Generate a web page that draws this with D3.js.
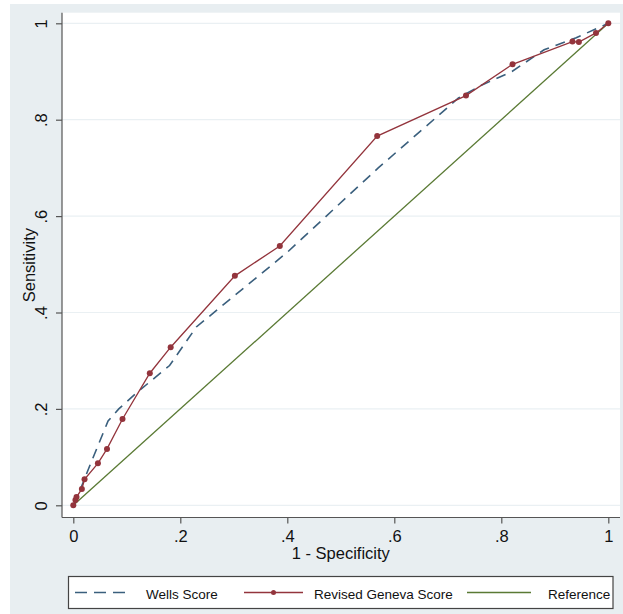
<!DOCTYPE html>
<html>
<head>
<meta charset="utf-8">
<script src="https://cdn.jsdelivr.net/npm/d3@7"></script>
<style>
  body { margin: 0; background: #fff; }
  text { font-family: "Liberation Sans", Arial, Helvetica, sans-serif; fill: #111; }
</style>
</head>
<body>
<svg id="chart"></svg>
<script>
  // ROC curves
  const wellsX = [0, 0.005, 0.03, 0.065, 0.085, 0.12, 0.18, 0.23, 0.4, 0.57, 0.72, 0.76, 0.82, 0.88, 0.94, 1];
  const wellsY = [0, 0.01, 0.08, 0.175, 0.2, 0.235, 0.29, 0.37, 0.525, 0.7, 0.845, 0.87, 0.9, 0.945, 0.97, 1];

  const genevaX = [0, 0.004, 0.006, 0.016, 0.021, 0.046, 0.063, 0.092, 0.143, 0.182, 0.302, 0.386, 0.568, 0.734, 0.821, 0.933, 0.945, 0.977, 1];
  const genevaY = [0, 0.011, 0.017, 0.034, 0.054, 0.087, 0.117, 0.179, 0.274, 0.328, 0.476, 0.538, 0.766, 0.85, 0.915, 0.962, 0.961, 0.98, 1];

  const refX = [0, 1];
  const refY = [0, 1];

  const tickValues = [0, 0.2, 0.4, 0.6, 0.8, 1];
  const tickLabels = ['0', '.2', '.4', '.6', '.8', '1'];

  const legendNames = ['Wells Score', 'Revised Geneva Score', 'Reference'];

  const width = 623, height = 614;
  const colors = { wells: '#3a5f7d', geneva: '#93343c', ref: '#5a7a34' };
  const dash = '10,7';

  const svg = d3.select('#chart').attr('width', width).attr('height', height);

  // graph region background
  svg.append('rect')
    .attr('x', 10).attr('y', 4)
    .attr('width', width - 10).attr('height', height - 4)
    .attr('fill', '#e8eef1');

  const plot = { left: 62, top: 12.7, right: 620, bottom: 517.5 };

  svg.append('rect')
    .attr('x', plot.left).attr('y', plot.top)
    .attr('width', plot.right - plot.left).attr('height', plot.bottom - plot.top)
    .attr('fill', '#fff');

  const x = d3.scaleLinear().domain([0, 1]).range([73.3, 608.3]);
  const y = d3.scaleLinear().domain([0, 1]).range([505.3, 23.3]);

  // grid
  svg.append('g').selectAll('line').data(tickValues)
    .enter().append('line')
      .attr('x1', plot.left).attr('x2', plot.right)
      .attr('y1', d => y(d)).attr('y2', d => y(d))
      .attr('stroke', '#eaf0f3').attr('stroke-width', 1.2);

  // axes
  const xAxis = svg.append('g')
    .attr('transform', `translate(0,${plot.bottom})`)
    .call(d3.axisBottom(x).tickValues(tickValues).tickFormat((d, i) => tickLabels[i]).tickSize(6).tickPadding(3));
  xAxis.select('.domain').attr('d', `M${plot.left},0H${plot.right}`);

  const yAxis = svg.append('g')
    .attr('transform', `translate(${plot.left},0)`)
    .call(d3.axisLeft(y).tickValues(tickValues).tickFormat((d, i) => tickLabels[i]).tickSize(6));
  yAxis.select('.domain').attr('d', `M0,${plot.top}V${plot.bottom}`);

  [xAxis, yAxis].forEach(a => {
    a.selectAll('.domain').attr('stroke', '#555').attr('stroke-width', 1.2);
    a.selectAll('.tick line').attr('stroke', '#555').attr('stroke-width', 1.2);
    a.selectAll('.tick text').style('font-size', '16.5px').attr('fill', '#111');
  });
  xAxis.selectAll('.tick text').attr('dy', null).attr('y', 24.5);
  yAxis.selectAll('.tick text')
    .attr('x', null).attr('dy', null)
    .attr('text-anchor', 'middle')
    .attr('transform', 'translate(-15,0) rotate(-90)');

  svg.append('text')
    .attr('x', (x(0) + x(1)) / 2).attr('y', 559)
    .attr('text-anchor', 'middle')
    .style('font-size', '16.5px')
    .text('1 - Specificity');

  svg.append('text')
    .attr('transform', `translate(35,${(plot.top + plot.bottom) / 2}) rotate(-90)`)
    .attr('text-anchor', 'middle')
    .style('font-size', '16.5px')
    .text('Sensitivity');

  const line = d3.line().x(d => x(d[0])).y(d => y(d[1]));

  svg.append('path')
    .datum(refX.map((v, i) => [v, refY[i]]))
    .attr('d', line).attr('fill', 'none')
    .attr('stroke', colors.ref).attr('stroke-width', 1.3);

  svg.append('path')
    .datum(wellsX.map((v, i) => [v, wellsY[i]]))
    .attr('d', line).attr('fill', 'none')
    .attr('stroke', colors.wells).attr('stroke-width', 1.6)
    .attr('stroke-dasharray', dash);

  const geneva = genevaX.map((v, i) => [v, genevaY[i]]);
  svg.append('path')
    .datum(geneva)
    .attr('d', line).attr('fill', 'none')
    .attr('stroke', colors.geneva).attr('stroke-width', 1.3);

  svg.append('g').selectAll('circle').data(geneva)
    .enter().append('circle')
      .attr('cx', d => x(d[0])).attr('cy', d => y(d[1]))
      .attr('r', 3).attr('fill', colors.geneva);

  // legend
  const legend = svg.append('g');
  legend.append('rect')
    .attr('x', 68.5).attr('y', 576.5)
    .attr('width', 544.5).attr('height', 32)
    .attr('fill', '#fff').attr('stroke', '#444').attr('stroke-width', 1.2);

  const legendItems = [
    { name: legendNames[0], x1: 75, x2: 128, tx: 146, color: colors.wells, dash: '12,7', dot: false },
    { name: legendNames[1], x1: 244, x2: 303, tx: 314, color: colors.geneva, dash: null, dot: true },
    { name: legendNames[2], x1: 467, x2: 531, tx: 548, color: colors.ref, dash: null, dot: false }
  ];
  const ly = 592.5;
  legendItems.forEach(it => {
    legend.append('line')
      .attr('x1', it.x1).attr('x2', it.x2).attr('y1', ly).attr('y2', ly)
      .attr('stroke', it.color).attr('stroke-width', it.dash ? 1.6 : 1.3)
      .attr('stroke-dasharray', it.dash);
    if (it.dot)
      legend.append('circle').attr('cx', (it.x1 + it.x2) / 2).attr('cy', ly).attr('r', 2.5).attr('fill', it.color);
    legend.append('text')
      .attr('x', it.tx).attr('y', 598.5)
      .style('font-size', '13.5px')
      .text(it.name);
  });
</script>
</body>
</html>
